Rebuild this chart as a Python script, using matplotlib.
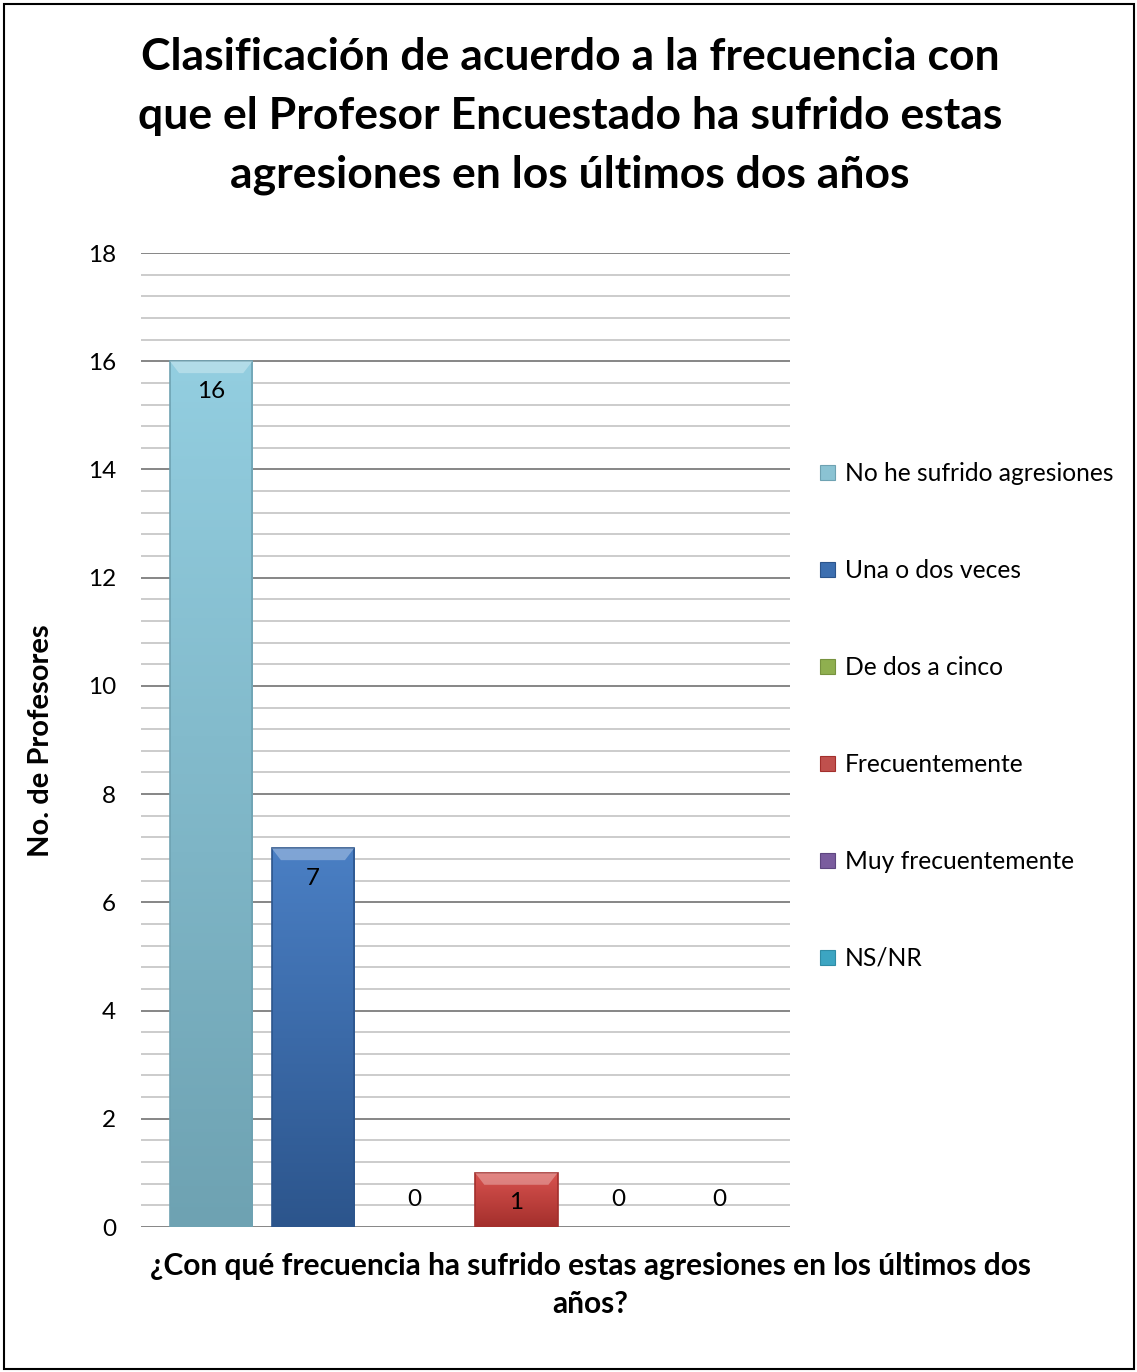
import numpy as np
import matplotlib
matplotlib.use("Agg")
import matplotlib.pyplot as plt
from matplotlib.patches import Rectangle, Patch
from matplotlib.colors import LinearSegmentedColormap

plt.rcParams['font.family'] = ['Lato', 'DejaVu Sans']

title = "Clasificación de acuerdo a la frecuencia con\nque el Profesor Encuestado ha sufrido estas\nagresiones en los últimos dos años"
categories = ["No he sufrido agresiones", "Una o dos veces", "De dos a cinco",
              "Frecuentemente", "Muy frecuentemente", "NS/NR"]
values = [16, 7, 0, 1, 0, 0]
colors_top = ["#93CEE0", "#4A7FC4", "#A5C863", "#D9534F", "#8C6DB0", "#4FB6D0"]
colors_bot = ["#6EA2B2", "#2C558C", "#77923F", "#A32F2C", "#5E4680", "#2F8CA5"]
legend_colors = ["#8BC3D3", "#3D6FB0", "#8FAF4F", "#C0504D", "#7A5C9E", "#3CA5C2"]
yticks = [0, 2, 4, 6, 8, 10, 12, 14, 16, 18]
ylabel = "No. de Profesores"
xlabel = "¿Con qué frecuencia ha sufrido estas agresiones en los últimos dos\naños?"

W, H = 1137, 1372
fig = plt.figure(figsize=(W / 100, H / 100), dpi=100)

# outer frame
fig.patches.append(Rectangle((3.5 / W, 3.5 / H), 1 - 7 / W, 1 - 7 / H, transform=fig.transFigure,
                             fill=False, edgecolor="black", linewidth=1.5))

ax = fig.add_axes([141 / W, 1 - 1227 / H, (790 - 141) / W, (1227 - 253) / H])
x = np.arange(len(values))
ax.set_xlim(-0.69, 5.69)
ax.set_ylim(0, 18)

# gridlines
for y in np.arange(0, 18.01, 0.4):
    major = abs(y / 2 - round(y / 2)) < 1e-6
    ax.axhline(y, color="#868686" if major else "#BFBFBF", lw=1.4 if major else 1.1, zorder=0)

bw = 0.81
bars = ax.bar(x, values, width=bw, color=legend_colors, edgecolor="none", zorder=2)
for b, v, ct, cb in zip(bars, values, colors_top, colors_bot):
    if v <= 0:
        continue
    cmap = LinearSegmentedColormap.from_list("g", [cb, ct])
    grad = np.linspace(0, 1, 256).reshape(-1, 1)
    im = ax.imshow(grad, cmap=cmap, origin="lower", aspect="auto",
                   extent=(b.get_x(), b.get_x() + bw, 0, v), zorder=3)
    im.set_clip_path(b)
    ax.add_patch(Rectangle((b.get_x(), 0), bw, v, fill=False, edgecolor=cb, lw=1.2, zorder=4))
    dy = 0.22
    ax.fill([b.get_x(), b.get_x() + bw, b.get_x() + bw - 0.09, b.get_x() + 0.09],
            [v, v, v - dy, v - dy], color="white", alpha=0.3, lw=0, zorder=4)

for xi, v in zip(x, values):
    off = -30 if v > 0 else 27
    ax.annotate(str(v), (xi, v), xytext=(0, off), textcoords="offset pixels",
                ha="center", va="center", fontsize=17.5, color="black", zorder=5)

ax.set_xticks([])
ax.set_yticks(yticks)
ax.set_yticklabels([str(t) for t in yticks], fontsize=17.5)
ax.tick_params(axis="y", length=0, pad=18)
for s in ax.spines.values():
    s.set_visible(False)

fig.text(41 / W, 1 - 741 / H, ylabel, ha="center", va="center", rotation=90,
         fontsize=21, fontweight="bold")
fig.text(590 / W, 1 - 1285 / H, xlabel, ha="center", va="center", fontsize=21.5,
         fontweight="bold", linespacing=1.45)
fig.text(570 / W, 1 - 116 / H, title, ha="center", va="center", fontsize=32,
         fontweight="bold", linespacing=1.56)

handles = [Patch(facecolor=c, edgecolor=cb, linewidth=0.8) for c, cb in zip(legend_colors, colors_bot)]
fig.legend(handles, categories, loc="upper left", bbox_to_anchor=(820 / W, 1 - 462 / H),
           frameon=False, fontsize=17.7, handlelength=0.6, handleheight=0.6,
           handletextpad=0.4, labelspacing=3.01, borderaxespad=0, borderpad=0)

fig.savefig("out.png", dpi=100)
